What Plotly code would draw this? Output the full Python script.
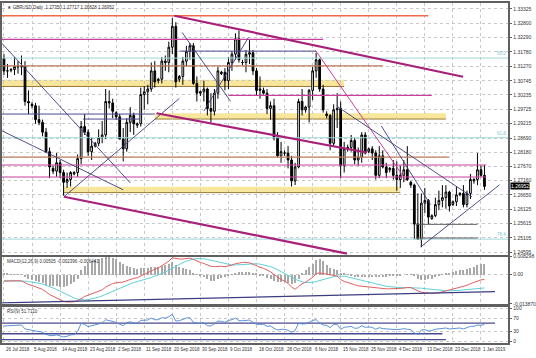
import plotly.graph_objects as go

# ---------------- data ----------------
date_labels = ["26 Jul 2018", "5 Aug 2018", "14 Aug 2018", "23 Aug 2018", "2 Sep 2018",
               "11 Sep 2018", "20 Sep 2018", "30 Sep 2018", "9 Oct 2018", "18 Oct 2018",
               "28 Oct 2018", "6 Nov 2018", "15 Nov 2018", "25 Nov 2018", "4 Dec 2018",
               "13 Dec 2018", "23 Dec 2018", "1 Jan 2019"]
label_bars = [0, 8, 16, 24, 32, 40, 48, 56, 64, 72, 80, 88, 96, 104, 112, 120, 128, 136]

open_ = [1.3155, 1.3110, 1.3112, 1.3115, 1.3125, 1.3125, 1.3125, 1.3000, 1.2990, 1.2985,
         1.2935, 1.2925, 1.2890, 1.2820, 1.2760, 1.2750, 1.2780, 1.2745, 1.2710, 1.2720,
         1.2740, 1.2745, 1.2795, 1.2910, 1.2890, 1.2820, 1.2840, 1.2850, 1.2870, 1.2880,
         1.3000, 1.2995, 1.2960, 1.2945, 1.2865, 1.2830, 1.2925, 1.2950, 1.2915, 1.2920,
         1.3025, 1.3035, 1.3045, 1.3110, 1.3075, 1.3080, 1.3145, 1.3140, 1.3195, 1.3270,
         1.3080, 1.3090, 1.3145, 1.3180, 1.3200, 1.3065, 1.3030, 1.3035, 1.3045, 1.2975,
         1.2965, 1.3030, 1.3100, 1.3105, 1.3075, 1.3140, 1.3170, 1.3225, 1.3140, 1.3140,
         1.3170, 1.3175, 1.3110, 1.3040, 1.3040, 1.3030, 1.2975, 1.2985, 1.2870, 1.2805,
         1.2815, 1.2815, 1.2790, 1.2715, 1.2765, 1.3000, 1.2970, 1.2980, 1.3040, 1.3110,
         1.3150, 1.3045, 1.2955, 1.2950, 1.2850, 1.2970, 1.2975, 1.2770, 1.2830, 1.2835,
         1.2860, 1.2790, 1.2800, 1.2880, 1.2820, 1.2830, 1.2815, 1.2735, 1.2805, 1.2765,
         1.2755, 1.2760, 1.2735, 1.2720, 1.2735, 1.2755, 1.2710, 1.2700, 1.2560, 1.2505,
         1.2635, 1.2645, 1.2580, 1.2590, 1.2630, 1.2645, 1.2655, 1.2675, 1.2630, 1.2640,
         1.2665, 1.2670, 1.2630, 1.2670, 1.2715, 1.2720, 1.2755, 1.2735]
high_ = [1.3170, 1.3135, 1.3120, 1.3160, 1.3145, 1.3165, 1.3145, 1.3040, 1.2998, 1.2995,
         1.2985, 1.2935, 1.2905, 1.2835, 1.2770, 1.2815, 1.2790, 1.2755, 1.2745, 1.2750,
         1.2750, 1.2810, 1.2930, 1.2955, 1.2900, 1.2870, 1.2855, 1.2900, 1.2930, 1.3045,
         1.3040, 1.3010, 1.2965, 1.2955, 1.2905, 1.2940, 1.2980, 1.2960, 1.2925, 1.3050,
         1.3055, 1.3060, 1.3140, 1.3145, 1.3085, 1.3160, 1.3165, 1.3215, 1.3300, 1.3285,
         1.3095, 1.3160, 1.3200, 1.3210, 1.3210, 1.3090, 1.3040, 1.3075, 1.3050, 1.3030,
         1.3045, 1.3125, 1.3110, 1.3120, 1.3160, 1.3180, 1.3245, 1.3255, 1.3150, 1.3185,
         1.3220, 1.3185, 1.3120, 1.3090, 1.3050, 1.3045, 1.3000, 1.3010, 1.2890, 1.2855,
         1.2825, 1.2840, 1.2805, 1.2780, 1.3010, 1.3045, 1.2985, 1.3045, 1.3125, 1.3175,
         1.3155, 1.3060, 1.2965, 1.2955, 1.2990, 1.3030, 1.3000, 1.2855, 1.2845, 1.2880,
         1.2870, 1.2835, 1.2890, 1.2890, 1.2835, 1.2840, 1.2825, 1.2840, 1.2825, 1.2780,
         1.2765, 1.2790, 1.2785, 1.2770, 1.2790, 1.2840, 1.2715, 1.2705, 1.2670, 1.2670,
         1.2690, 1.2650, 1.2595, 1.2655, 1.2680, 1.2700, 1.2700, 1.2680, 1.2645, 1.2695,
         1.2675, 1.2700, 1.2680, 1.2740, 1.2725, 1.2815, 1.2770, 1.27717]
low_ = [1.3095, 1.3085, 1.3105, 1.3095, 1.3100, 1.3095, 1.2985, 1.2955, 1.2975, 1.2920,
        1.2915, 1.2875, 1.2815, 1.2725, 1.2740, 1.2730, 1.2725, 1.2662, 1.2690, 1.2695,
        1.2735, 1.2730, 1.2775, 1.2880, 1.2805, 1.2790, 1.2835, 1.2840, 1.2850, 1.2865,
        1.2975, 1.2940, 1.2935, 1.2865, 1.2785, 1.2820, 1.2890, 1.2880, 1.2905, 1.2910,
        1.2970, 1.2990, 1.3035, 1.3050, 1.3065, 1.3065, 1.3110, 1.3105, 1.3170, 1.3050,
        1.3070, 1.3060, 1.3125, 1.3150, 1.3060, 1.3000, 1.3020, 1.3000, 1.2950, 1.2925,
        1.2950, 1.3010, 1.3095, 1.3040, 1.3045, 1.3110, 1.3150, 1.3140, 1.3130, 1.3105,
        1.3135, 1.3095, 1.3020, 1.3010, 1.3025, 1.2955, 1.2935, 1.2860, 1.2800, 1.2780,
        1.2805, 1.2760, 1.2695, 1.2700, 1.2760, 1.2950, 1.2960, 1.2925, 1.3005, 1.3085,
        1.3035, 1.2960, 1.2940, 1.2825, 1.2840, 1.2905, 1.2725, 1.2745, 1.2820, 1.2820,
        1.2775, 1.2770, 1.2780, 1.2810, 1.2815, 1.2790, 1.2720, 1.2725, 1.2760, 1.2725,
        1.2745, 1.2720, 1.2680, 1.2690, 1.2710, 1.2715, 1.2690, 1.2505, 1.2505, 1.2477,
        1.2600, 1.2560, 1.2575, 1.2585, 1.2610, 1.2620, 1.2615, 1.2605, 1.2625, 1.2625,
        1.2660, 1.2620, 1.2620, 1.2650, 1.2705, 1.2700, 1.2730, 1.26828]
close_ = [1.3110, 1.3110, 1.3115, 1.3125, 1.3125, 1.3125, 1.3000, 1.2995, 1.2985, 1.2935,
          1.2925, 1.2890, 1.2820, 1.2765, 1.2750, 1.2780, 1.2745, 1.2710, 1.2720, 1.2745,
          1.2745, 1.2795, 1.2910, 1.2890, 1.2820, 1.2840, 1.2850, 1.2870, 1.2880, 1.3000,
          1.2995, 1.2965, 1.2945, 1.2865, 1.2830, 1.2925, 1.2950, 1.2920, 1.2920, 1.3025,
          1.3035, 1.3045, 1.3110, 1.3070, 1.3080, 1.3145, 1.3140, 1.3195, 1.3270, 1.3070,
          1.3090, 1.3145, 1.3180, 1.3200, 1.3065, 1.3030, 1.3035, 1.3045, 1.2975, 1.2965,
          1.3030, 1.3110, 1.3105, 1.3075, 1.3140, 1.3170, 1.3225, 1.3150, 1.3140, 1.3170,
          1.3175, 1.3110, 1.3040, 1.3045, 1.3030, 1.2975, 1.2985, 1.2870, 1.2805, 1.2820,
          1.2815, 1.2790, 1.2715, 1.2765, 1.3000, 1.2970, 1.2980, 1.3040, 1.3110, 1.3150,
          1.3045, 1.2970, 1.2950, 1.2850, 1.2970, 1.2975, 1.2770, 1.2830, 1.2835, 1.2860,
          1.2790, 1.2800, 1.2880, 1.2815, 1.2830, 1.2815, 1.2735, 1.2805, 1.2765, 1.2745,
          1.2760, 1.2735, 1.2720, 1.2735, 1.2755, 1.2720, 1.2700, 1.2560, 1.2505, 1.2635,
          1.2645, 1.2585, 1.2590, 1.2630, 1.2645, 1.2655, 1.2675, 1.2625, 1.2640, 1.2665,
          1.2670, 1.2630, 1.2670, 1.2720, 1.2720, 1.2755, 1.2735, 1.26952]

macd_hist = [0.0005, 0.0004, 0.0003, 0.0002, 0.0002, 0.0001, -0.0010, -0.0020, -0.0025, -0.0030,
             -0.0036, -0.0040, -0.0048, -0.0055, -0.0055, -0.0052, -0.0056, -0.0058, -0.0052, -0.0045,
             -0.0036, -0.0020, 0.0020, 0.0040, 0.0055, 0.0062, 0.0070, 0.0075, 0.0080, 0.0088,
             0.0085, 0.0078, 0.0072, 0.0060, 0.0050, 0.0042, 0.0035, 0.0030, 0.0028, 0.0030,
             0.0032, 0.0033, 0.0035, 0.0036, 0.0038, 0.0042, 0.0045, 0.0050, 0.0060, 0.0045,
             0.0038, 0.0030, 0.0025, 0.0020, 0.0008, 0.0002, -0.0004, -0.0012, -0.0022, -0.0030,
             -0.0028, -0.0020, -0.0015, -0.0012, -0.0008, 0.0002, 0.0010, 0.0012, 0.0013, 0.0013,
             0.0012, 0.0008, 0.0004, -0.0002, -0.0008, -0.0015, -0.0022, -0.0030, -0.0035, -0.0036,
             -0.0036, -0.0037, -0.0045, -0.0040, -0.0022, 0.0010, 0.0020, 0.0035, 0.0050, 0.0070,
             0.0075, 0.0065, 0.0045, 0.0030, 0.0025, 0.0020, 0.0008, 0.0004, 0.0002, -0.0005,
             -0.0010, -0.0012, -0.0010, -0.0012, -0.0012, -0.0010, -0.0012, -0.0010, -0.0010, -0.0009,
             -0.0007, -0.0005, -0.0004, -0.0002, 0.0000, 0.0002, 0.0003, -0.0008, -0.0018, -0.0025,
             -0.0025, -0.0022, -0.0018, -0.0012, -0.0006, 0.0003, 0.0006, 0.0008, 0.0012, 0.0016,
             0.0020, 0.0022, 0.0025, 0.0030, 0.0035, 0.0044, 0.0050, 0.0050]
macd_main = [-0.0032, -0.0031, -0.0031, -0.0030, -0.0030, -0.0031, -0.0040, -0.0048, -0.0052, -0.0058,
             -0.0064, -0.0071, -0.0082, -0.0095, -0.0103, -0.0110, -0.0118, -0.0127, -0.0130, -0.0131,
             -0.0129, -0.0124, -0.0113, -0.0104, -0.0098, -0.0091, -0.0086, -0.0080, -0.0073, -0.0060,
             -0.0050, -0.0043, -0.0040, -0.0038, -0.0036, -0.0030, -0.0024, -0.0019, -0.0016, -0.0008,
             0.0000, 0.0008, 0.0018, 0.0024, 0.0030, 0.0040, 0.0049, 0.0062, 0.0078, 0.0074,
             0.0072, 0.0072, 0.0074, 0.0076, 0.0070, 0.0062, 0.0056, 0.0051, 0.0045, 0.0038,
             0.0036, 0.0038, 0.0038, 0.0036, 0.0038, 0.0043, 0.0050, 0.0054, 0.0056, 0.0056,
             0.0054, 0.0048, 0.0040, 0.0033, 0.0028, 0.0020, 0.0012, 0.0000, -0.0014, -0.0024,
             -0.0032, -0.0042, -0.0060, -0.0070, -0.0057, -0.0044, -0.0037, -0.0027, -0.0014, 0.0004,
             0.0006, 0.0004, 0.0001, -0.0004, -0.0006, -0.0008, -0.0024, -0.0034, -0.0038, -0.0042,
             -0.0049, -0.0054, -0.0056, -0.0059, -0.0059, -0.0060, -0.0064, -0.0064, -0.0066, -0.0068,
             -0.0068, -0.0068, -0.0068, -0.0067, -0.0065, -0.0062, -0.0062, -0.0070, -0.0078, -0.0084,
             -0.0086, -0.0088, -0.0089, -0.0088, -0.0087, -0.0082, -0.0078, -0.0074, -0.0070, -0.0066,
             -0.0062, -0.0058, -0.0052, -0.0044, -0.0038, -0.0030, -0.0026, -0.0024]
macd_signal = [-0.0030, -0.0030, -0.0030, -0.0031, -0.0031, -0.0031, -0.0032, -0.0034, -0.0036, -0.0039,
               -0.0042, -0.0046, -0.0051, -0.0057, -0.0064, -0.0071, -0.0079, -0.0088, -0.0096, -0.0104,
               -0.0111, -0.0116, -0.0119, -0.0120, -0.0119, -0.0116, -0.0112, -0.0107, -0.0101, -0.0094,
               -0.0086, -0.0078, -0.0070, -0.0063, -0.0056, -0.0049, -0.0043, -0.0038, -0.0034, -0.0030,
               -0.0026, -0.0021, -0.0015, -0.0009, -0.0003, 0.0004, 0.0011, 0.0019, 0.0029, 0.0039,
               0.0047, 0.0055, 0.0062, 0.0068, 0.0072, 0.0074, 0.0074, 0.0073, 0.0070, 0.0066,
               0.0061, 0.0057, 0.0053, 0.0049, 0.0046, 0.0044, 0.0044, 0.0045, 0.0047, 0.0049,
               0.0050, 0.0051, 0.0050, 0.0048, 0.0045, 0.0041, 0.0036, 0.0030, 0.0022, 0.0014,
               0.0006, -0.0003, -0.0013, -0.0023, -0.0030, -0.0035, -0.0038, -0.0039, -0.0038, -0.0034,
               -0.0029, -0.0024, -0.0019, -0.0015, -0.0011, -0.0008, -0.0008, -0.0009, -0.0012, -0.0016,
               -0.0020, -0.0025, -0.0030, -0.0035, -0.0039, -0.0043, -0.0047, -0.0050, -0.0053, -0.0056,
               -0.0058, -0.0060, -0.0061, -0.0062, -0.0062, -0.0062, -0.0062, -0.0062, -0.0063, -0.0065,
               -0.0067, -0.0069, -0.0071, -0.0073, -0.0075, -0.0076, -0.0077, -0.0077, -0.0077, -0.0076,
               -0.0075, -0.0073, -0.0071, -0.0069, -0.0067, -0.0066, -0.0065, -0.0064]
rsi = [47, 48, 48, 50, 49, 50, 38, 36, 35, 32, 30, 28, 22, 18, 18, 20, 17, 14, 16, 20,
       21, 30, 55, 52, 45, 48, 50, 53, 56, 66, 64, 60, 58, 52, 48, 57, 60, 56, 56, 64,
       65, 65, 71, 66, 66, 72, 71, 75, 82, 62, 63, 68, 71, 72, 58, 55, 55, 56, 48, 47,
       54, 62, 61, 58, 64, 66, 71, 63, 63, 65, 65, 58, 52, 52, 52, 46, 47, 40, 35, 37,
       37, 34, 28, 33, 56, 53, 54, 58, 64, 66, 56, 50, 49, 42, 52, 52, 37, 43, 44, 46,
       40, 41, 48, 43, 44, 43, 37, 42, 39, 38, 39, 37, 36, 37, 39, 37, 36, 26, 22, 35,
       36, 32, 33, 37, 38, 39, 41, 38, 39, 41, 41, 38, 41, 46, 46, 50, 49, 51.71]

price_ticks = [1.33325, 1.32800, 1.32290, 1.31780, 1.31270, 1.30745, 1.30235, 1.29725, 1.29215,
               1.28690, 1.28180, 1.27670, 1.27160, 1.26650, 1.26125, 1.25615, 1.25105, 1.24595]
macd_ticks = [0.008298, 0.0, -0.013870]
macd_tick_text = ["0.008298", "0.00", "-0.013870"]
rsi_ticks = [100, 70, 30, 0]

# drawn objects: (bar0, price0, bar1, price1)
navy_trend = [(-0.6, 1.3209, 36.0, 1.2708), (-0.6, 1.2895, 34.0, 1.2683), (17.1, 1.2658, 50.0, 1.3011),
              (94.9, 1.2983, 133.4, 1.2658), (107.6, 1.2912, 121.6, 1.2630),
              (118.8, 1.2478, 141.3, 1.2701),
              (50.8, 1.3248, 64.6, 1.3001), (57.0, 1.2966, 69.7, 1.3230)]
magenta_trend = [(48.6, 1.3308, 130.9, 1.3089), (43.5, 1.2958, 103.4, 1.2817), (17.1, 1.2658, 97.8, 1.2454)]
magenta_thin = [(88.8, 1.3184, 114.6, 1.2718)]
# horizontal levels: (price, bar0, bar1)
orange_levels = [(1.3308, -0.6, 121.0)]
magenta_levels = [(1.3223, -0.6, 91.0), (1.3022, 64.0, 122.0), (1.2772, -0.6, 137.5), (1.2729, -0.6, 137.5)]
brown_levels = [(1.3128, -0.6, 108.0), (1.2800, -0.6, 127.0)]
navy_levels = [(1.3181, 50.0, 89.0), (1.2955, -0.6, 43.0), (1.2937, 22.5, 38.8)]
grey_levels = [(1.2559, 117.4, 135.0), (1.2510, 117.4, 135.0)]
fib_levels = [1.3156, 1.2870, 1.2506]
fib_names = ["50.0", "61.8", "76.4"]
bands = [(1.3054, 1.3078, -0.6, 97.0), (1.2937, 1.2958, 43.0, 126.0), (1.2673, 1.2694, 17.0, 113.0)]
macd_trend = [(-0.6, -0.0134, 140.0, -0.0081)]
rsi_levels = [(56, -0.6, 140.0), (23.5, -0.6, 125.0), (6, -0.6, 126.0)]

header = "\u25bc GBPUSD,Daily  1.27350 1.27717 1.26828 1.26952"
macd_header = "MACD(12,26,9) 0.00505 -0.002396 -0.006441"
rsi_header = "RSI(9) 51.7110"

# ---------------- figure ----------------
W, H = 536, 358
XR = 514 / W
def fy(py):
    return 1 - py / H

n = len(close_)
bars = list(range(n))
xrange_ = [-0.56, 143.8]
FONT = "Liberation Sans"

fig = go.Figure()

fig.add_trace(go.Candlestick(
    x=bars, open=open_, high=high_, low=low_, close=close_,
    increasing=dict(line=dict(color="#000000", width=1), fillcolor="#ffffff"),
    decreasing=dict(line=dict(color="#000000", width=1), fillcolor="#000000"),
    whiskerwidth=0, xaxis="x", yaxis="y", showlegend=False, hoverinfo="skip"))

def seg(x0, y0, x1, y1, color, width, xa="x", ya="y", dash="solid"):
    fig.add_trace(go.Scatter(x=[x0, x1], y=[y0, y1], mode="lines",
                             line=dict(color=color, width=width, dash=dash),
                             xaxis=xa, yaxis=ya, showlegend=False, hoverinfo="skip"))

shapes = []
for (p0, p1, b0, b1) in bands:
    shapes.append(dict(type="rect", xref="x", yref="y", x0=b0, x1=b1, y0=p0, y1=p1,
                       fillcolor="rgba(245,222,120,0.75)", line=dict(width=0), layer="below"))
    shapes.append(dict(type="line", xref="x", yref="y", x0=b0, x1=b1, y0=p0, y1=p0,
                       line=dict(color="#9a7a3a", width=1), layer="below"))

for p in fib_levels:
    seg(xrange_[0], p, xrange_[1], p, "#9fd6dc", 1)
for (p, b0, b1) in orange_levels:
    seg(b0, p, b1, p, "#f06a48", 1.3)
for (p, b0, b1) in magenta_levels:
    seg(b0, p, b1, p, "#c8409c", 1.2)
for (p, b0, b1) in brown_levels:
    seg(b0, p, b1, p, "#b9785a", 1.3)
for (p, b0, b1) in navy_levels:
    seg(b0, p, b1, p, "#4a4a90", 1)
for (p, b0, b1) in grey_levels:
    seg(b0, p, b1, p, "#606060", 1)
for (b0, p0, b1, p1) in navy_trend:
    seg(b0, p0, b1, p1, "#3c3c80", 0.9)
for (b0, p0, b1, p1) in magenta_thin:
    seg(b0, p0, b1, p1, "#c8409c", 1)
for (b0, p0, b1, p1) in magenta_trend:
    seg(b0, p0, b1, p1, "#a8207a", 2.2)

# MACD panel
fig.add_trace(go.Bar(x=bars, y=macd_hist, marker=dict(color="#a8a8a8", line=dict(width=0)),
                     width=0.3, xaxis="x2", yaxis="y2", showlegend=False, hoverinfo="skip"))
fig.add_trace(go.Scatter(x=bars, y=macd_signal, mode="lines", line=dict(color="#5fd0d8", width=1),
                         xaxis="x2", yaxis="y2", showlegend=False, hoverinfo="skip"))
fig.add_trace(go.Scatter(x=bars, y=macd_main, mode="lines", line=dict(color="#e06060", width=1),
                         xaxis="x2", yaxis="y2", showlegend=False, hoverinfo="skip"))
for (b0, v0, b1, v1) in macd_trend:
    seg(b0, v0, b1, v1, "#3c3c80", 1.3, "x2", "y2")

# RSI panel
for (v, b0, b1) in rsi_levels:
    seg(b0, v, b1, v, "#4a4a90", 1.3, "x3", "y3")
fig.add_trace(go.Scatter(x=bars, y=rsi, mode="lines", line=dict(color="#4a86d8", width=0.9),
                         xaxis="x3", yaxis="y3", showlegend=False, hoverinfo="skip"))

grid = dict(showgrid=True, gridcolor="#c8c8c8", griddash="dot", gridwidth=1)
xcommon = dict(range=xrange_, domain=[0, XR], tickvals=label_bars, showticklabels=False,
               ticks="", zeroline=False, showline=True, mirror=True, linecolor="#606060",
               linewidth=2, **grid)
ycommon = dict(side="right", ticks="outside", ticklen=2, tickcolor="#606060", zeroline=False,
               showline=True, mirror=True, linecolor="#606060", linewidth=2,
               tickfont=dict(family=FONT, size=5, color="#333333"), **grid)

fig.update_layout(
    width=W, height=H, margin=dict(l=0, r=0, t=0, b=0),
    paper_bgcolor="white", plot_bgcolor="white", showlegend=False, bargap=0,
    xaxis=dict(anchor="y", rangeslider=dict(visible=False), **xcommon),
    xaxis2=dict(anchor="y2", **xcommon),
    xaxis3=dict(anchor="y3", **xcommon),
    yaxis=dict(anchor="x", domain=[fy(256), fy(0)], range=[1.2450, 1.33537],
               tickvals=price_ticks, ticktext=["%.5f" % v for v in price_ticks], **ycommon),
    yaxis2=dict(anchor="x2", domain=[fy(306), fy(258)], range=[-0.013870, 0.008298],
                tickvals=macd_ticks, ticktext=macd_tick_text, **ycommon),
    yaxis3=dict(anchor="x3", domain=[fy(346), fy(309)], range=[-5, 105],
                tickvals=rsi_ticks, ticktext=[str(v) for v in rsi_ticks], **ycommon),
    shapes=shapes,
)

ann = []
for b, t in zip(label_bars, date_labels):
    ann.append(dict(x=b, xref="x3", y=fy(352), yref="paper", text=t, showarrow=False,
                    xanchor="left", yanchor="middle", font=dict(family=FONT, size=4.5, color="#333333")))
ann.append(dict(x=0.006, xref="paper", y=fy(5), yref="paper", text=header, showarrow=False,
                xanchor="left", yanchor="middle", font=dict(family=FONT, size=4.5, color="#333333")))
ann.append(dict(x=0.006, xref="paper", y=fy(263), yref="paper", text=macd_header, showarrow=False,
                xanchor="left", yanchor="middle", font=dict(family=FONT, size=4.5, color="#333333")))
ann.append(dict(x=0.006, xref="paper", y=fy(314), yref="paper", text=rsi_header, showarrow=False,
                xanchor="left", yanchor="middle", font=dict(family=FONT, size=4.5, color="#333333")))
for p, nm in zip(fib_levels, fib_names):
    ann.append(dict(x=xrange_[1], xref="x", y=p, yref="y", text=nm, showarrow=False,
                    xanchor="right", yanchor="bottom", font=dict(family=FONT, size=4.5, color="#7cc4cc")))
ann.append(dict(x=XR + 0.004, xref="paper", y=close_[-1], yref="y", text="%.5f" % close_[-1],
                showarrow=False, xanchor="left", yanchor="middle", bgcolor="#000000",
                font=dict(family=FONT, size=5, color="#ffffff"), borderpad=0))
fig.update_layout(annotations=ann)

fig.write_html("out.html")
